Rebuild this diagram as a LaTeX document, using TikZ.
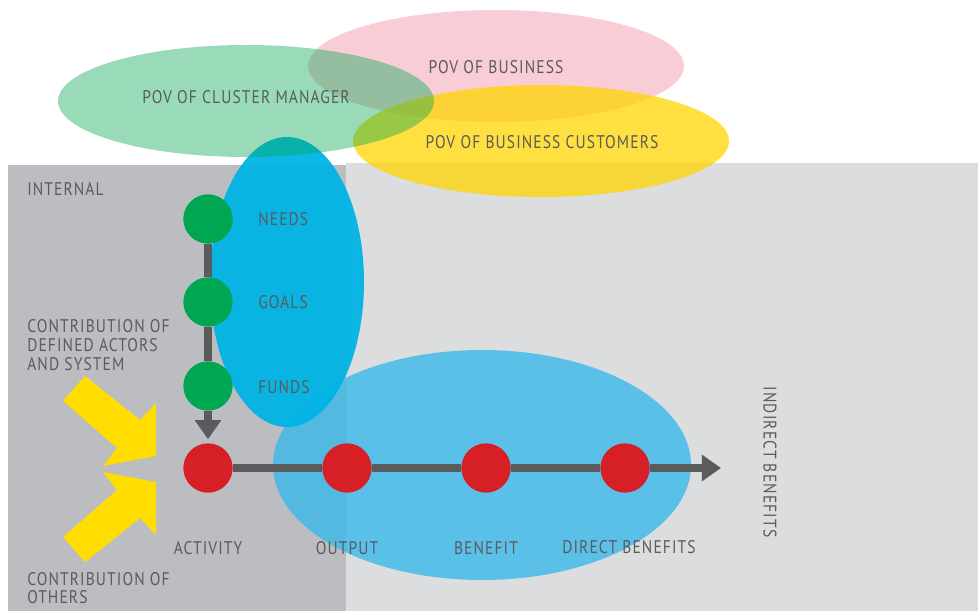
\documentclass[tikz,border=0pt]{standalone}
\usepackage{fontspec}
\setmainfont{PT Sans}[FakeStretch=0.85,LetterSpace=6]
\usepackage{xcolor}
\usepackage{tikz}
\usetikzlibrary{arrows.meta}

\definecolor{darkpanel}{HTML}{BCBDC0}
\definecolor{lightpanel}{HTML}{DCDDDF}
\definecolor{bigblue}{HTML}{3BB9EA}
\definecolor{cyanblob}{HTML}{00B4E5}
\definecolor{pinkblob}{HTML}{F9CDD5}
\definecolor{yellowblob}{HTML}{FFD500}
\definecolor{greendot}{HTML}{00A651}
\definecolor{reddot}{HTML}{D71F26}
\definecolor{pushyellow}{HTML}{FFDD00}
\definecolor{flowgray}{HTML}{5A5B5D}

\begin{document}
\begin{tikzpicture}[x=0.025cm,y=-0.025cm]
				\tikzset{tag/.style={text=flowgray,inner sep=0pt,font=\fontsize{13}{13.3}\selectfont},
					dot/.style={circle,minimum size=1.225cm,inner sep=0pt},
					goal dot/.style={dot,fill=greendot},
					step dot/.style={dot,fill=reddot},
					flow/.style={draw=flowgray,line width=0.21cm,-{Triangle[length=0.48cm,width=0.64cm]}}}
				\useasboundingbox (0,0) rectangle (978,611);

				% panels
				\fill[darkpanel] (8,165) rectangle (346,611);
				\fill[lightpanel] (346,163) rectangle (978,611);

				% points of view
				\fill[bigblue,fill opacity=0.8] (482,465) ellipse [x radius=209, y radius=115];
				\fill[cyanblob,fill opacity=0.95] (287,282) ellipse [x radius=77, y radius=145];
				\fill[pinkblob] (496,66) ellipse [x radius=188, y radius=56];
				\fill[yellowblob,fill opacity=0.75] (541,141) ellipse [x radius=188, y radius=56];
				\fill[greendot,fill opacity=0.4] (246,101) ellipse [x radius=188, y radius=56];

				% contributions
				\fill[pushyellow] (63,401) -- (85,376) -- (140,420) -- (156,403) -- (156,456) -- (103,466) -- (117,448) -- cycle;
				\fill[pushyellow] (63,537) -- (85,562) -- (140,518) -- (156,535) -- (156,482) -- (103,472) -- (117,490) -- cycle;

				\node[goal dot] (needs) at (208,219) {};
				\node[goal dot] (goals) at (208,302) {};
				\node[goal dot] (funds) at (208,386) {};
				\node[step dot] (activity) at (208,468) {};
				\node[step dot] (output) at (347,468) {};
				\node[step dot] (benefit) at (486,468) {};
				\node[step dot] (direct) at (625,468) {};
				\coordinate (flow end) at (721,468);

				\draw[flow,shorten >=0.1cm] (needs) -- (goals) -- (funds) -- (activity);
				\draw[flow] (activity) -- (output) -- (benefit) -- (direct) -- (flow end);

				% redraw dots over the lines
				\foreach \d/\s in {needs/goal dot,goals/goal dot,funds/goal dot,activity/step dot,output/step dot,benefit/step dot,direct/step dot}
					\node[\s] at (\d) {};

				\node[tag] (pov manager) at (246,97) {POV OF CLUSTER MANAGER};
				\node[tag] (pov business) at (496,67) {POV OF BUSINESS};
				\node[tag] (pov customers) at (542,142) {POV OF BUSINESS CUSTOMERS};

				\node[tag,anchor=west] (internal) at (27,189) {INTERNAL};
				\node[tag,anchor=west] (needs label) at (258,219) {NEEDS};
				\node[tag,anchor=west] (goals label) at (258,302) {GOALS};
				\node[tag,anchor=west] (funds label) at (258,387) {FUNDS};
				\node[tag,anchor=west,align=left] (defined) at (27,345) {CONTRIBUTION OF\\DEFINED ACTORS\\AND SYSTEM};
				\node[tag,anchor=west,align=left] (others) at (27,588) {CONTRIBUTION OF\\OTHERS};

				\node[tag] (activity label) at (208,548) {ACTIVITY};
				\node[tag] (output label) at (347,548) {OUTPUT};
				\node[tag] (benefit label) at (486,548) {BENEFIT};
				\node[tag] (direct label) at (629,547) {DIRECT BENEFITS};
				\node[tag,rotate=-90] (indirect) at (770,462) {INDIRECT BENEFITS};
			\end{tikzpicture}
\end{document}
